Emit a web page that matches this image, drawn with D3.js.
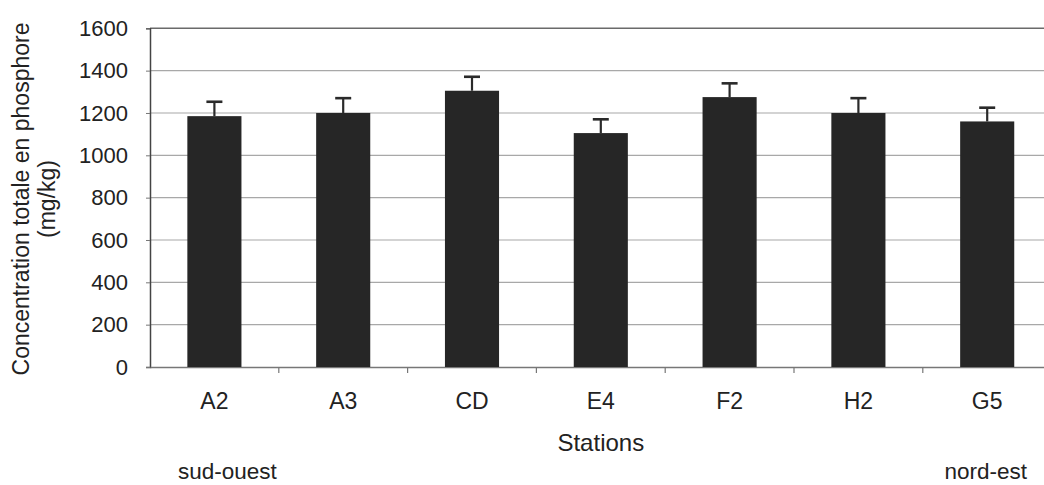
<!DOCTYPE html>
<html>
<head>
<meta charset="utf-8">
<script src="https://cdn.jsdelivr.net/npm/d3@7"></script>
<style>
  html, body { margin: 0; padding: 0; background: #fff; }
  svg { display: block; font-family: "Liberation Sans", Arial, sans-serif; }
</style>
</head>
<body>
<svg id="chart" width="1044" height="485"></svg>
<script>
// Total phosphorus concentration per station (mg/kg), mean and error
const stations = ["A2", "A3", "CD", "E4", "F2", "H2", "G5"];
const means = [1185, 1200, 1305, 1105, 1275, 1200, 1160];
const errors = [68, 70, 66, 65, 65, 70, 65];
const yTicks = [0, 200, 400, 600, 800, 1000, 1200, 1400, 1600];

const svg = d3.select("#chart");
const plotLeft = 150, plotRight = 1051.6, plotTop = 28.3, plotBottom = 367;
const ink = "#222";
const font = "Liberation Sans, Arial, sans-serif";

const x = d3.scaleBand().domain(stations).range([plotLeft, plotRight]).padding(0);
const y = d3.scaleLinear().domain([0, 1600]).range([plotBottom, plotTop]);

// horizontal gridlines
svg.append("g").selectAll("line")
  .data(yTicks.filter(d => d > 0 && d < 1600))
  .join("line")
  .attr("x1", plotLeft).attr("x2", 1044)
  .attr("y1", d => y(d)).attr("y2", d => y(d))
  .attr("stroke", "#a8a8a8").attr("stroke-width", 1.2);

// plot area top border
svg.append("line")
  .attr("x1", plotLeft).attr("x2", 1044)
  .attr("y1", y(1600)).attr("y2", y(1600))
  .attr("stroke", "#6a6a6a").attr("stroke-width", 1.4);

// y axis
const yAxis = d3.axisLeft(y).tickValues(yTicks).tickFormat(d3.format("d"))
  .tickSize(4).tickPadding(18);
const gy = svg.append("g").attr("transform", `translate(${plotLeft},0)`).call(yAxis);
gy.select(".domain").attr("stroke", "#444").attr("stroke-width", 1.5);
gy.selectAll(".tick line").attr("stroke", "#777");
gy.selectAll("text").attr("fill", ink).attr("font-size", 22).attr("font-family", font);

// x axis
const xAxis = d3.axisBottom(x).tickSize(0).tickPadding(26);
const gx = svg.append("g").attr("transform", `translate(0,${plotBottom})`).call(xAxis);
gx.select(".domain").attr("stroke", "#777").attr("stroke-width", 1.5);
gx.selectAll("text").attr("fill", ink).attr("font-size", 23).attr("font-family", font);

// category separator ticks below the axis
svg.append("g").selectAll("line")
  .data(stations.slice(1))
  .join("line")
  .attr("x1", d => x(d)).attr("x2", d => x(d))
  .attr("y1", plotBottom).attr("y2", plotBottom + 6)
  .attr("stroke", "#777").attr("stroke-width", 1.2);

// bars
const barW = x.bandwidth() * 0.42;
svg.append("g").selectAll("rect")
  .data(stations)
  .join("rect")
  .attr("x", d => x(d) + (x.bandwidth() - barW) / 2)
  .attr("y", (d, i) => y(means[i]))
  .attr("width", barW)
  .attr("height", (d, i) => y(0) - y(means[i]))
  .attr("fill", "#262626");

// error bars (upper)
const eb = svg.append("g").attr("stroke", "#2a2a2a");
stations.forEach((s, i) => {
  const cx = x(s) + x.bandwidth() / 2;
  eb.append("line")
    .attr("x1", cx).attr("x2", cx)
    .attr("y1", y(means[i])).attr("y2", y(means[i] + errors[i]))
    .attr("stroke-width", 2.2);
  eb.append("line")
    .attr("x1", cx - 8).attr("x2", cx + 8)
    .attr("y1", y(means[i] + errors[i])).attr("y2", y(means[i] + errors[i]))
    .attr("stroke-width", 2.6);
});

// axis titles
svg.append("text")
  .attr("x", (plotLeft + plotRight) / 2).attr("y", 451)
  .attr("text-anchor", "middle").attr("font-size", 24).attr("fill", ink)
  .text("Stations");

const yt = svg.append("text")
  .attr("transform", "translate(0,199) rotate(-90)")
  .attr("text-anchor", "middle").attr("font-size", 23).attr("fill", ink);
yt.append("tspan").attr("x", 0).attr("y", 29).text("Concentration totale en phosphore");
yt.append("tspan").attr("x", 0).attr("y", 55).text("(mg/kg)");

// orientation labels
svg.append("text")
  .attr("x", 178).attr("y", 479)
  .attr("font-size", 22.5).attr("fill", ink)
  .text("sud-ouest");
svg.append("text")
  .attr("x", 1027).attr("y", 479)
  .attr("text-anchor", "end").attr("font-size", 22.5).attr("fill", ink)
  .text("nord-est");
</script>
</body>
</html>
